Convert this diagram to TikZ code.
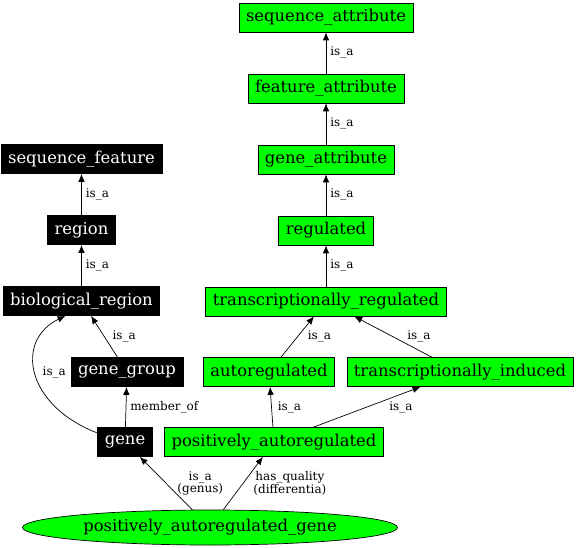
\documentclass[tikz,border=0pt]{standalone}
\usepackage{fontspec}
\setmainfont{DejaVu Serif}
\usetikzlibrary{arrows.meta}
\usetikzlibrary{shapes.geometric}
\usetikzlibrary{calc}

\begin{document}
\begin{tikzpicture}[x=1pt,y=-1pt,node distance=71pt,line width=.7pt,>={Latex[length=8pt,width=6.5pt]},
  term/.style={draw,rectangle,fill=green,minimum height=29pt,inner xsep=7pt,inner ysep=1pt,font=\fontsize{16.4}{18}\selectfont},
  blackterm/.style={term,fill=black,text=white},
  lbl/.style={font=\fontsize{12}{12.5}\selectfont,inner sep=1pt,align=center}]
\useasboundingbox (0,0) rectangle (576,548);
% attribute column
\node [term] (seqattr) at (326,17.5) {sequence\_attribute};
\node [term] [below of=seqattr] (featattr) {feature\_attribute};
\node [term] [below of=featattr] (geneattr) {gene\_attribute};
\node [term] [below of=geneattr] (regulated) {regulated};
\node [term] [below of=regulated] (transreg) {transcriptionally\_regulated};
\node [term] (autoreg) at (269,372) {autoregulated};
\node [term] (transind) at (460,372) {transcriptionally\_induced};
\node [term] (posauto) at (274,442) {positively\_autoregulated};
% feature column
\node [blackterm] (seqfeat) at (81.5,159) {sequence\_feature};
\node [blackterm] [below of=seqfeat] (region) {region};
\node [blackterm] [below of=region] (bioregion) {biological\_region};
\node [blackterm] (genegroup) at (127,372) {gene\_group};
\node [blackterm] (gene) at (125,442) {gene};
\node [draw,ellipse,fill=green,minimum width=375pt,minimum height=35pt,inner sep=0pt,font=\fontsize{16.4}{18}\selectfont] (pagene) at (210,527.5) {positively\_autoregulated\_gene};
% is_a edges
\draw [->] (featattr) -- node[lbl,right,xshift=3pt] {is\_a} (seqattr);
\draw [->] (geneattr) -- node[lbl,right,xshift=3pt] {is\_a} (featattr);
\draw [->] (regulated) -- node[lbl,right,xshift=3pt] {is\_a} (geneattr);
\draw [->] (transreg) -- node[lbl,right,xshift=3pt] {is\_a} (regulated);
\draw [->] (autoreg) -- node[lbl,right,xshift=9pt] {is\_a} (transreg);
\draw [->] (transind) -- node[lbl,right,xshift=13pt] {is\_a} (transreg);
\draw [->] (posauto) -- node[lbl,right,xshift=5pt] {is\_a} (autoreg);
\draw [->] (posauto) -- node[lbl,right,xshift=21pt] {is\_a} (transind);
\draw [->] (region) -- node[lbl,right,xshift=3pt] {is\_a} (seqfeat);
\draw [->] (bioregion) -- node[lbl,right,xshift=3pt] {is\_a} (region);
\draw [->] (genegroup) -- node[lbl,right,xshift=7pt] {is\_a} (bioregion);
\draw [->] ($(gene.west)+(0,-9)$) .. controls (25,405) and (15,340) .. node[lbl,right,xshift=6pt] {is\_a} ($(bioregion.south)+(-16,0)$);
\draw [->] (gene) -- node[lbl,right,xshift=3pt] {member\_of} (genegroup);
% genus and differentia
\draw [->] (pagene) -- node[lbl,right,xshift=10pt] {is\_a\\(genus)} (gene);
\draw [->] (pagene) -- node[lbl,right,xshift=9pt] {has\_quality\\(differentia)} (posauto);
\end{tikzpicture}
\end{document}
